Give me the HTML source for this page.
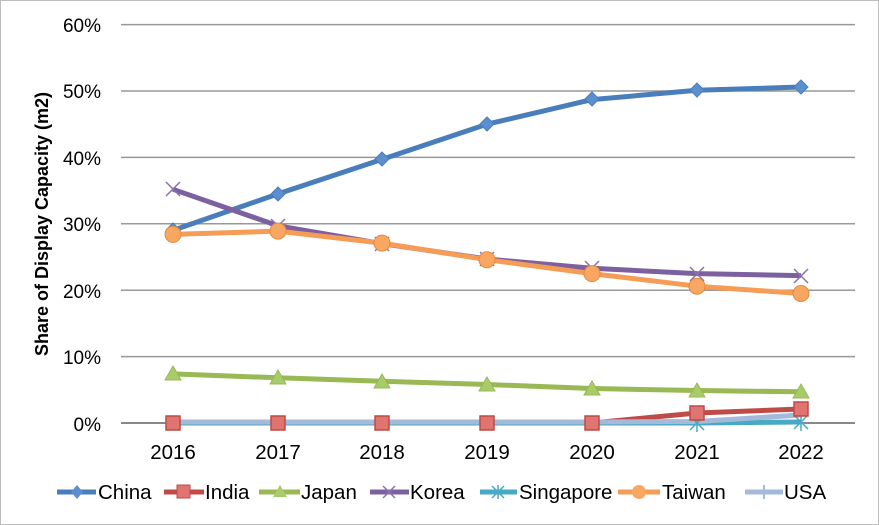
<!DOCTYPE html>
<html><head><style>body{margin:0;background:#fff}svg{display:block;font-family:"Liberation Sans",sans-serif}</style></head><body>
<svg width="879" height="525" viewBox="0 0 879 525">
<rect x="0.5" y="0.5" width="878" height="524" fill="#fff" stroke="#bdbdbd"/>
<g stroke="#999" stroke-width="1.5">
<line x1="121" y1="24.6" x2="855" y2="24.6"/><line x1="121" y1="91" x2="855" y2="91"/><line x1="121" y1="157.4" x2="855" y2="157.4"/><line x1="121" y1="223.8" x2="855" y2="223.8"/><line x1="121" y1="290.2" x2="855" y2="290.2"/><line x1="121" y1="356.6" x2="855" y2="356.6"/><line x1="121" y1="423" x2="855" y2="423" stroke="#888" stroke-width="2"/>
</g>
<g font-size="19" text-anchor="end" fill="#000">
<text x="101" y="32">60%</text><text x="101" y="98">50%</text><text x="101" y="165">40%</text><text x="101" y="231">30%</text><text x="101" y="298">20%</text><text x="101" y="364">10%</text><text x="101" y="431">0%</text>
</g>
<g font-size="20.5" text-anchor="middle">
<text x="173" y="459">2016</text><text x="278" y="459">2017</text><text x="382" y="459">2018</text><text x="487" y="459">2019</text><text x="592" y="459">2020</text><text x="697" y="459">2021</text><text x="801" y="459">2022</text>
</g>
<text transform="translate(48,224) rotate(-90)" font-size="18" font-weight="bold" text-anchor="middle">Share of Display Capacity (m2)</text>
<g fill="none" stroke-width="5" stroke-linejoin="round">
<polyline stroke="#4a7ebb" points="173,230.4 278,193.9 382,159.4 487,124.2 592,99.6 697,90.3 801,87"/>
<polyline stroke="#be4b48" points="173,423 278,423 382,423 487,423 592,423 697,413 801,409"/>
<polyline stroke="#98b954" points="173,373.9 278,377.8 382,381.2 487,384.5 592,388.5 697,390.5 801,391.8"/>
<polyline stroke="#7d60a0" points="173,189.3 278,225.8 382,243.7 487,259 592,268.3 697,273.6 801,275.6"/>
<polyline stroke="#46aac5" points="173,423 278,423 382,423 487,423 592,423 697,423 801,422"/>
<polyline stroke="#f59d56" points="173,234.4 278,231.1 382,243.1 487,259.7 592,273.6 697,286.2 801,293.5"/>
<polyline stroke="#a5b9db" points="173,422 278,422 382,422 487,422 592,422 697,421.5 801,415"/>
</g>
<g stroke="#46aac5" stroke-width="1.5"><path d="M690,416l14,14M704,416l-14,14M697,414v18"/><path d="M794,415l14,14M808,415l-14,14M801,413v18"/></g>
<g fill="#5b8fd0" stroke="#4a7ebb">
<path d="M173,223l7,7-7,7-7-7z"/><path d="M278,187l7,7-7,7-7-7z"/><path d="M382,152l7,7-7,7-7-7z"/><path d="M487,117l7,7-7,7-7-7z"/><path d="M592,92l7,7-7,7-7-7z"/><path d="M697,83l7,7-7,7-7-7z"/><path d="M801,80l7,7-7,7-7-7z"/>
</g>
<g fill="#e07470" stroke="#be4b48" stroke-width="1.5">
<rect x="166" y="416" width="14" height="14"/><rect x="271" y="416" width="14" height="14"/><rect x="375" y="416" width="14" height="14"/><rect x="480" y="416" width="14" height="14"/><rect x="585" y="416" width="14" height="14"/><rect x="690" y="406" width="14" height="14"/><rect x="794" y="402" width="14" height="14"/>
</g>
<g fill="#a9cc6a" stroke="#98b954">
<path d="M173,366l8,14h-16z"/><path d="M278,370l8,14h-16z"/><path d="M382,374l8,14h-16z"/><path d="M487,377l8,14h-16z"/><path d="M592,381l8,14h-16z"/><path d="M697,383l8,14h-16z"/><path d="M801,384l8,14h-16z"/>
</g>
<g stroke="#8a70ad" stroke-width="1.5">
<path d="M166,182l14,14M180,182l-14,14"/><path d="M271,219l14,14M285,219l-14,14"/><path d="M375,237l14,14M389,237l-14,14"/><path d="M480,252l14,14M494,252l-14,14"/><path d="M585,261l14,14M599,261l-14,14"/><path d="M690,267l14,14M704,267l-14,14"/><path d="M794,269l14,14M808,269l-14,14"/>
</g>
<g fill="#f8a763" stroke="#e8893e" stroke-width="1">
<circle cx="173" cy="234.4" r="8"/><circle cx="278" cy="231.1" r="8"/><circle cx="382" cy="243.1" r="8"/><circle cx="487" cy="259.7" r="8"/><circle cx="592" cy="273.6" r="8"/><circle cx="697" cy="286.2" r="8"/><circle cx="801" cy="293.5" r="8"/>
</g>
<g font-size="20.5">
<line x1="57" y1="492" x2="96" y2="492" stroke="#4a7ebb" stroke-width="5"/><path d="M77,485l6,7-6,7-6-7z" fill="#5b8fd0"/><text x="98" y="499">China</text>
<line x1="164" y1="492" x2="204" y2="492" stroke="#be4b48" stroke-width="5"/><rect x="177" y="485" width="13" height="13" fill="#e07470" stroke="#be4b48"/><text x="205" y="499">India</text>
<line x1="259" y1="492" x2="300" y2="492" stroke="#98b954" stroke-width="5"/><path d="M280,485l7,12h-14z" fill="#a9cc6a"/><text x="301" y="499">Japan</text>
<line x1="370" y1="492" x2="409" y2="492" stroke="#7d60a0" stroke-width="5"/><path d="M383,486l12,12M395,486l-12,12" stroke="#8a70ad" stroke-width="1.5"/><text x="410" y="499">Korea</text>
<line x1="480" y1="492" x2="517" y2="492" stroke="#46aac5" stroke-width="5"/><path d="M492,486l12,12M504,486l-12,12M498,485v14" stroke="#46aac5" stroke-width="1.5"/><text x="519" y="499">Singapore</text>
<line x1="618" y1="492" x2="660" y2="492" stroke="#f59d56" stroke-width="5"/><circle cx="639" cy="492" r="7" fill="#f8a763"/><text x="662" y="499">Taiwan</text>
<line x1="745" y1="492" x2="783" y2="492" stroke="#a5b9db" stroke-width="5"/><path d="M764,485v14" stroke="#a5b9db" stroke-width="2"/><text x="784" y="499">USA</text>
</g>
</svg>
</body></html>
